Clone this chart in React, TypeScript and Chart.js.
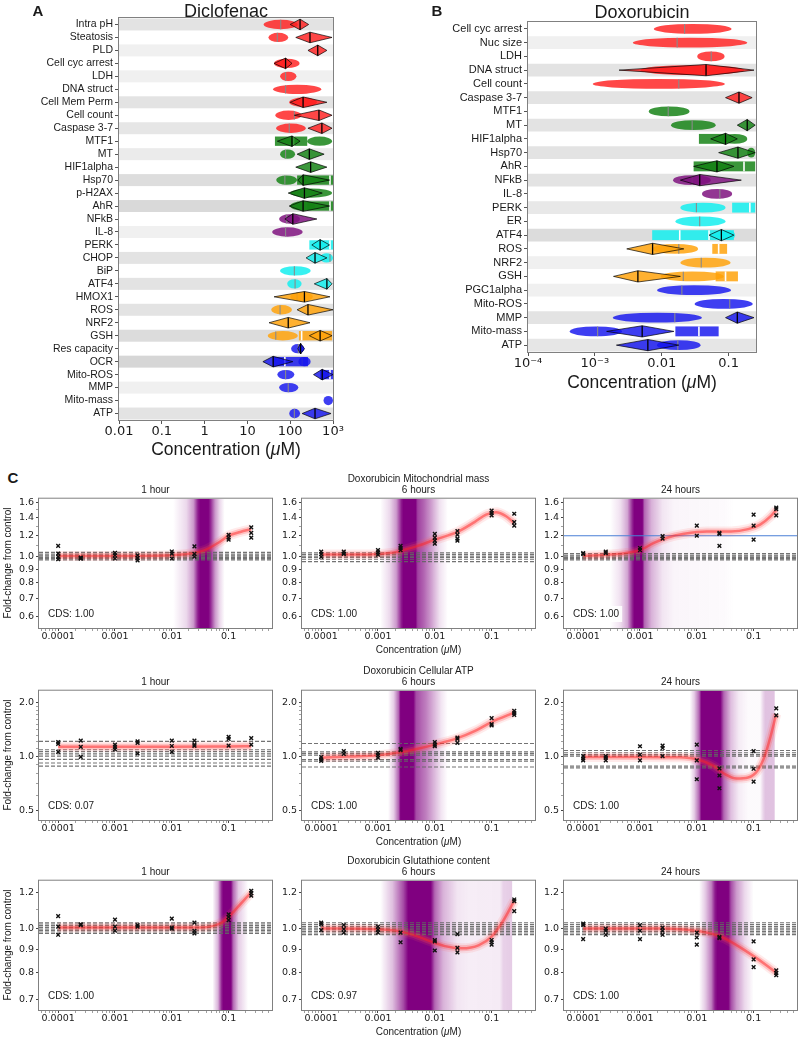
import React, { useEffect, useRef } from 'react';
import { Chart, registerables } from 'chart.js';

Chart.register(...registerables);

const SANS = '"Liberation Sans", Arial, Helvetica, sans-serif';
const DEJAVU = '"DejaVu Sans", Verdana, sans-serif';

/* ================= Panel A : Diclofenac ================= */
const DICLO_ROWS = ['Intra pH', 'Steatosis', 'PLD', 'Cell cyc arrest', 'LDH', 'DNA struct', 'Cell Mem Perm', 'Cell count', 'Caspase 3-7', 'MTF1', 'MT', 'HIF1alpha', 'Hsp70', 'p-H2AX', 'AhR', 'NFkB', 'IL-8', 'PERK', 'CHOP', 'BiP', 'ATF4', 'HMOX1', 'ROS', 'NRF2', 'GSH', 'Res capacity', 'OCR', 'Mito-ROS', 'MMP', 'Mito-mass', 'ATP'];
const DICLO_GROUPS = ['red', 'red', 'red', 'red', 'red', 'red', 'red', 'red', 'red', 'green', 'green', 'green', 'green', 'green', 'green', 'purple', 'purple', 'cyan', 'cyan', 'cyan', 'cyan', 'orange', 'orange', 'orange', 'orange', 'blue', 'blue', 'blue', 'blue', 'blue', 'blue'];
const DICLO_SHADE = [227, 255, 240, 255, 240, 255, 227, 255, 230, 255, 235, 255, 221, 255, 217, 255, 240, 255, 227, 255, 227, 255, 227, 255, 220, 255, 214, 255, 240, 255, 227];
// [row, low, median, high] in µM
const DICLO_ELLIPSES: any[] = [
  ['Intra pH', 24, 60, 150], ['Steatosis', 31, 50, 90], ['Cell cyc arrest', 42, 80, 165], ['LDH', 58, 78, 140],
  ['DNA struct', 40, 78, 530], ['Cell Mem Perm', 95, 200, 420], ['Cell count', 45, 125, 185], ['Caspase 3-7', 47, 95, 230],
  ['MTF1', 250, null, 950], ['MT', 58, 78, 130], ['Hsp70', 47, 75, 145], ['p-H2AX', 100, 215, 950], ['AhR', 100, 200, 380],
  ['NFkB', 55, 83, 170], ['IL-8', 38, 78, 195], ['CHOP', 500, 850, 1000], ['BiP', 58, 125, 300], ['ATF4', 85, 130, 185],
  ['HMOX1', 100, 145, 340], ['ROS', 36, 58, 110], ['GSH', 30, 46, 150], ['Res capacity', 105, 155, 215],
  ['OCR', 155, 190, 300], ['Mito-ROS', 50, 78, 125], ['MMP', 55, 90, 155], ['Mito-mass', 600, null, 1000], ['ATP', 95, 125, 170],
];
const DICLO_DIAMONDS: any[] = [
  ['Intra pH', 100, 170, 270], ['Steatosis', 135, 290, 950], ['PLD', 260, 440, 720], ['Cell cyc arrest', 42, 78, 110],
  ['Cell Mem Perm', 100, 200, 720], ['Cell count', 125, 470, 950], ['Caspase 3-7', 260, 550, 950], ['MTF1', 50, 110, 170],
  ['MT', 145, 280, 620], ['HIF1alpha', 135, 300, 720], ['Hsp70', 150, 200, 830], ['p-H2AX', 90, 215, 560], ['AhR', 95, 200, 830],
  ['NFkB', 75, 115, 420], ['PERK', 320, 500, 830], ['CHOP', 235, 380, 720], ['ATF4', 365, 720, 950], ['HMOX1', 42, 215, 850],
  ['ROS', 145, 260, 1000], ['NRF2', 32, 90, 290], ['GSH', 280, 500, 950], ['Res capacity', 150, 175, 215], ['OCR', 23, 40, 115],
  ['Mito-ROS', 350, 560, 1000], ['ATP', 190, 380, 900],
];
// [row, boundaries...]
const DICLO_RECTS: any[] = [
  ['MTF1', 44, 120, 250], ['Hsp70', 145, 850, 1000], ['AhR', 250, 850, 1000], ['PERK', 280, 850, 1000],
  ['GSH', 160, 185, 950], ['OCR', 40, 75, 260], ['Mito-ROS', 500, 850, 1000],
];
const DICLO_TICKS = [0.01, 0.1, 1, 10, 100, 1000];
const DICLO_TICK_LABELS = ['0.01', '0.1', '1', '10', '100', '10³'];

/* ================= Panel B : Doxorubicin ================= */
const DOXO_ROWS = ['Cell cyc arrest', 'Nuc size', 'LDH', 'DNA struct', 'Cell count', 'Caspase 3-7', 'MTF1', 'MT', 'HIF1alpha', 'Hsp70', 'AhR', 'NFkB', 'IL-8', 'PERK', 'ER', 'ATF4', 'ROS', 'NRF2', 'GSH', 'PGC1alpha', 'Mito-ROS', 'MMP', 'Mito-mass', 'ATP'];
const DOXO_GROUPS = ['red', 'red', 'red', 'red', 'red', 'red', 'green', 'green', 'green', 'green', 'green', 'purple', 'purple', 'cyan', 'cyan', 'cyan', 'orange', 'orange', 'orange', 'blue', 'blue', 'blue', 'blue', 'blue'];
const DOXO_SHADE = [255, 240, 255, 227, 255, 227, 255, 227, 255, 227, 255, 227, 255, 232, 255, 220, 255, 240, 255, 240, 255, 227, 255, 230];
const DOXO_ELLIPSES: any[] = [
  ['Cell cyc arrest', 0.0076, 0.022, 0.111], ['Nuc size', 0.0037, 0.017, 0.19], ['LDH', 0.034, 0.055, 0.087],
  ['DNA struct', 0.0048, 0.039, 0.17], ['Cell count', 0.00093, 0.018, 0.088], ['MTF1', 0.0064, 0.0125, 0.026],
  ['MT', 0.0138, 0.0285, 0.064], ['HIF1alpha', 0.08, null, 0.19], ['Hsp70', 0.19, null, 0.25], ['NFkB', 0.0148, 0.0285, 0.054],
  ['IL-8', 0.04, 0.074, 0.113], ['PERK', 0.019, 0.033, 0.09], ['ER', 0.016, 0.037, 0.09], ['ATF4', 0.075, null, 0.125],
  ['ROS', 0.0073, 0.018, 0.035], ['NRF2', 0.019, 0.039, 0.107], ['GSH', 0.0096, 0.021, 0.085], ['PGC1alpha', 0.0085, 0.02, 0.109],
  ['Mito-ROS', 0.031, 0.104, 0.23], ['MMP', 0.00185, 0.0157, 0.04], ['Mito-mass', 0.00042, 0.0011, 0.00255], ['ATP', 0.0085, 0.0174, 0.038],
];
const DOXO_DIAMONDS: any[] = [
  ['DNA struct', 0.0023, 0.046, 0.24], ['Caspase 3-7', 0.09, 0.143, 0.225], ['MT', 0.135, 0.19, 0.25],
  ['HIF1alpha', 0.054, 0.09, 0.135], ['Hsp70', 0.071, 0.138, 0.25], ['AhR', 0.03, 0.067, 0.12], ['NFkB', 0.019, 0.037, 0.155],
  ['ATF4', 0.051, 0.078, 0.12], ['ROS', 0.003, 0.0073, 0.0214], ['GSH', 0.0019, 0.0044, 0.019], ['MMP', 0.09, 0.135, 0.24],
  ['Mito-mass', 0.0015, 0.0051, 0.0152], ['ATP', 0.0021, 0.0062, 0.018],
];
const DOXO_RECTS: any[] = [
  ['HIF1alpha', 0.036, 0.09], ['AhR', 0.03, 0.17, 0.25], ['PERK', 0.113, 0.208, 0.25], ['ATF4', 0.0072, 0.0186, 0.051, 0.12],
  ['ROS', 0.057, 0.071, 0.095], ['GSH', 0.064, 0.09, 0.138], ['Mito-mass', 0.016, 0.036, 0.071],
];
const DOXO_TICKS = [0.0001, 0.001, 0.01, 0.1];
const DOXO_TICK_LABELS = ['10⁻⁴', '10⁻³', '0.01', '0.1'];

const GROUP_COLORS: Record<string, string> = {
  red: 'rgba(255,30,30,0.82)', green: 'rgba(20,130,20,0.84)', purple: 'rgba(125,15,125,0.84)',
  cyan: 'rgba(20,238,238,0.85)', orange: 'rgba(255,162,10,0.84)', blue: 'rgba(20,20,238,0.82)',
};

/* ================= Panel C : concentration-response ================= */
const CONC = [0.0001, 0.00025, 0.001, 0.0025, 0.01, 0.025, 0.1, 0.25];
const TIMES = ['1 hour', '6 hours', '24 hours'];

// Mitochondrial mass
const MITO_1H_REPS = [[1.10, 1.03, 1.0, 0.98], [0.995, 0.99, 0.985], [1.036, 1.014, 0.986], [1.014, 0.99, 0.97], [1.048, 1.028, 0.986], [1.095, 1.026, 1.002], [1.21, 1.18, 1.16], [1.29, 1.23, 1.18]];
const MITO_1H_FIT = [[0.0001, 1.008], [0.001, 1.008], [0.01, 1.015], [0.02, 1.027], [0.04, 1.065], [0.07, 1.14], [0.1, 1.2], [0.16, 1.24], [0.25, 1.27]];
const MITO_1H_CTRL = [0.975, 0.985, 0.995, 1.005, 1.015, 1.025, 1.04];
const MITO_1H_BAND = [[0.0105, 0], [0.018, 0.15], [0.024, 0.4], [0.029, 0.9], [0.032, 1], [0.044, 1], [0.048, 0.85], [0.058, 0.4], [0.07, 0.15], [0.085, 0]];

const MITO_6H_REPS = [[1.047, 1.025, 1.0], [1.047, 1.03, 1.025], [1.06, 1.04, 1.02], [1.10, 1.08, 1.06], [1.22, 1.18, 1.15, 1.12], [1.25, 1.21, 1.17, 1.15], [1.49, 1.46, 1.43], [1.45, 1.35, 1.31]];
const MITO_6H_FIT = [[0.0001, 1.02], [0.0005, 1.02], [0.001, 1.025], [0.002, 1.04], [0.003, 1.065], [0.005, 1.10], [0.01, 1.16], [0.025, 1.24], [0.05, 1.35], [0.08, 1.44], [0.12, 1.47], [0.18, 1.42], [0.25, 1.34]];
const MITO_6H_CTRL = [0.96, 0.98, 0.995, 1.005, 1.02, 1.035];
const MITO_6H_BAND = [[0.0011, 0], [0.0016, 0.15], [0.0021, 0.4], [0.0026, 0.9], [0.0028, 1], [0.0046, 1], [0.005, 0.75], [0.0065, 0.6], [0.009, 0.35], [0.012, 0.12], [0.017, 0]];

const MITO_24H_REPS = [[1.033, 1.025], [1.047, 1.033], [1.08, 1.06], [1.196, 1.17], [1.31, 1.2], [1.23, 1.22, 1.1], [1.44, 1.31, 1.16], [1.53, 1.51, 1.43]];
const MITO_24H_FIT = [[0.0001, 1.01], [0.0003, 1.02], [0.0007, 1.04], [0.001, 1.06], [0.0018, 1.13], [0.003, 1.18], [0.006, 1.22], [0.015, 1.245], [0.04, 1.245], [0.08, 1.27], [0.13, 1.32], [0.2, 1.42], [0.25, 1.5]];
const MITO_24H_CTRL = [0.975, 0.985, 0.995, 1.005, 1.015, 1.03];
const MITO_24H_BAND = [[0.0003, 0], [0.00045, 0.12], [0.0006, 0.35], [0.00075, 0.9], [0.0008, 1], [0.0011, 1], [0.0012, 0.6], [0.0016, 0.3], [0.0025, 0.1], [0.004, 0.04], [0.03, 0.02], [0.045, 0]];
const MITO_24H_REF = [1.2];

// Cellular ATP
const ATP_1H_REPS = [[1.2, 1.17, 1.056], [1.22, 1.126, 0.99], [1.16, 1.126, 1.09], [1.21, 1.185, 1.035], [1.22, 1.14, 1.056], [1.22, 1.16, 1.14], [1.28, 1.25, 1.146], [1.26, 1.16]];
const ATP_1H_FIT = [[0.0001, 1.13], [0.001, 1.13], [0.01, 1.13], [0.1, 1.133], [0.25, 1.135]];
const ATP_1H_CTRL = [1.21, 1.085, 1.06, 1.03, 1.0, 0.96, 0.915, 0.88];
const ATP_1H_BAND: number[][] = [];

const ATP_6H_REPS = [[0.987, 0.96, 0.94], [1.066, 1.03], [1.043, 1.013, 0.98], [1.098, 1.08], [1.2, 1.16, 1.136], [1.27, 1.25, 1.185], [1.63, 1.51, 1.485], [1.79, 1.74, 1.7]];
const ATP_6H_FIT = [[0.0001, 0.98], [0.0003, 0.995], [0.001, 1.01], [0.0025, 1.05], [0.005, 1.1], [0.01, 1.16], [0.025, 1.26], [0.05, 1.38], [0.1, 1.55], [0.25, 1.75]];
const ATP_6H_CTRL = [1.176, 1.056, 1.035, 1.013, 0.958, 0.938, 0.87];
const ATP_6H_BAND = [[0.0015, 0], [0.0019, 0.2], [0.0023, 0.6], [0.0025, 1], [0.0042, 1], [0.0047, 0.7], [0.007, 0.5], [0.0095, 0.3], [0.013, 0.1], [0.017, 0]];

const ATP_24H_REPS = [[1.0, 0.97, 0.947], [1.0, 0.98, 0.947], [1.136, 1.02, 0.947], [1.146, 1.11, 1.0], [1.16, 0.947, 0.743], [0.855, 0.78, 0.662], [1.066, 0.85, 0.72], [1.85, 1.69]];
const ATP_24H_FIT = [[0.0001, 0.99], [0.001, 0.99], [0.005, 0.985], [0.01, 0.96], [0.02, 0.88], [0.03, 0.8], [0.05, 0.75], [0.08, 0.76], [0.12, 0.84], [0.16, 1.02], [0.2, 1.3], [0.25, 1.72]];
const ATP_24H_CTRL = [1.075, 1.045, 1.02, 1.0, 0.88, 0.86];
const ATP_24H_BAND = [[0.0075, 0], [0.009, 0.2], [0.011, 0.6], [0.012, 1], [0.026, 1], [0.03, 0.6], [0.04, 0.25], [0.055, 0.08], [0.08, 0.02], [0.13, 0.02], [0.145, 0.15], [0.16, 0.24], [0.23, 0.24], [0.24, 0]];

// Glutathione content
const GSH_1H_REPS = [[1.065, 1.01, 0.969], [1.022, 1.017], [1.046, 1.01, 0.989], [1.017, 1.01], [1.051, 1.005, 1.0], [1.03, 0.989, 0.976], [1.074, 1.06, 1.043], [1.21, 1.196, 1.18]];
const GSH_1H_FIT = [[0.0001, 1.005], [0.001, 1.005], [0.01, 1.005], [0.04, 1.007], [0.07, 1.025], [0.1, 1.06], [0.15, 1.12], [0.25, 1.2]];
const GSH_1H_CTRL = [0.975, 0.983, 0.991, 0.998, 1.006, 1.015, 1.023, 1.03];
const GSH_1H_BAND = [[0.052, 0], [0.065, 0.3], [0.075, 0.85], [0.08, 1], [0.11, 1], [0.12, 0.6], [0.15, 0.2], [0.2, 0.05], [0.22, 0]];

const GSH_6H_REPS = [[1.03, 1.022, 0.992], [1.018, 0.997, 0.98], [1.01, 0.994, 0.98], [0.98, 0.933], [0.944, 0.937, 0.895], [0.972, 0.907, 0.887], [0.944, 0.933, 0.922], [1.158, 1.148, 1.092]];
const GSH_6H_FIT = [[0.0001, 1.0], [0.001, 0.997], [0.002, 0.99], [0.004, 0.97], [0.008, 0.94], [0.015, 0.915], [0.03, 0.905], [0.06, 0.92], [0.1, 0.96], [0.16, 1.04], [0.25, 1.15]];
const GSH_6H_CTRL = [0.97, 0.978, 0.986, 0.994, 1.002, 1.01, 1.02, 1.03];
const GSH_6H_BAND = [[0.0011, 0], [0.0018, 0.25], [0.0028, 0.7], [0.0034, 1], [0.0085, 1], [0.01, 0.6], [0.014, 0.3], [0.025, 0.1], [0.04, 0.07], [0.14, 0.08], [0.16, 0.18], [0.225, 0.2], [0.235, 0]];

const GSH_24H_REPS = [[1.025, 1.018, 0.948], [1.0, 0.989, 0.969], [1.017, 0.989, 0.948], [1.005, 0.989, 0.969], [0.98, 0.956, 0.922], [0.959, 0.953], [0.937, 0.856, 0.823], [0.81, 0.799, 0.79]];
const GSH_24H_FIT = [[0.0001, 1.0], [0.002, 1.0], [0.006, 0.995], [0.012, 0.985], [0.025, 0.963], [0.05, 0.92], [0.1, 0.87], [0.17, 0.83], [0.25, 0.8]];
const GSH_24H_CTRL = [0.97, 0.978, 0.986, 0.994, 1.002, 1.01, 1.02, 1.03];
const GSH_24H_BAND = [[0.011, 0], [0.014, 0.2], [0.018, 0.5], [0.021, 0.9], [0.023, 1], [0.036, 1], [0.04, 0.7], [0.05, 0.4], [0.07, 0.15], [0.1, 0]];

const CDS_MITO = ['1.00', '1.00', '1.00'];
const CDS_ATP = ['0.07', '1.00', '1.00'];
const CDS_GSH = ['1.00', '0.97', '1.00'];

const C_X_MAJOR = [0.0001, 0.001, 0.01, 0.1];
const C_X_LABELS = ['0.0001', '0.001', '0.01', '0.1'];
const MITO_Y_MAJOR = [0.6, 0.7, 0.8, 0.9, 1.0, 1.2, 1.4, 1.6];
const MITO_Y_MINOR = [1.1, 1.3, 1.5];
const ATP_Y_MAJOR = [0.5, 1.0, 2.0];
const ATP_Y_MINOR = [0.6, 0.7, 0.8, 0.9, 1.1, 1.2, 1.3, 1.4, 1.5, 1.6, 1.7, 1.8, 1.9];
const GSH_Y_MAJOR = [0.7, 0.8, 0.9, 1.0, 1.2];
const GSH_Y_MINOR = [1.1];

const C_XMIN = 4.6e-5;
const C_XMAX = 0.58;

/* ================= layout ================= */
const C_COL_LEFT = [39, 302, 564];
const C_ROW_TOP = [497, 689, 879];
const C_PW = 233;
const C_PH = 131;
const C_YW = 32;
const C_PT = 6;
const C_PR = 6;
const C_XH = 16;

const C_ROWS = [
  {
    title: 'Doxorubicin Mitochondrial mass', yMin: 0.542, yMax: 1.651, yMajor: MITO_Y_MAJOR, yMinor: MITO_Y_MINOR,
    panels: [
      { reps: MITO_1H_REPS, fit: MITO_1H_FIT, ctrl: MITO_1H_CTRL, band: MITO_1H_BAND, cds: CDS_MITO[0], ref: [] as number[] },
      { reps: MITO_6H_REPS, fit: MITO_6H_FIT, ctrl: MITO_6H_CTRL, band: MITO_6H_BAND, cds: CDS_MITO[1], ref: [] as number[] },
      { reps: MITO_24H_REPS, fit: MITO_24H_FIT, ctrl: MITO_24H_CTRL, band: MITO_24H_BAND, cds: CDS_MITO[2], ref: MITO_24H_REF },
    ],
  },
  {
    title: 'Doxorubicin Cellular ATP', yMin: 0.44, yMax: 2.32, yMajor: ATP_Y_MAJOR, yMinor: ATP_Y_MINOR,
    panels: [
      { reps: ATP_1H_REPS, fit: ATP_1H_FIT, ctrl: ATP_1H_CTRL, band: ATP_1H_BAND, cds: CDS_ATP[0], ref: [] as number[] },
      { reps: ATP_6H_REPS, fit: ATP_6H_FIT, ctrl: ATP_6H_CTRL, band: ATP_6H_BAND, cds: CDS_ATP[1], ref: [] as number[] },
      { reps: ATP_24H_REPS, fit: ATP_24H_FIT, ctrl: ATP_24H_CTRL, band: ATP_24H_BAND, cds: CDS_ATP[2], ref: [] as number[] },
    ],
  },
  {
    title: 'Doxorubicin Glutathione content', yMin: 0.663, yMax: 1.273, yMajor: GSH_Y_MAJOR, yMinor: GSH_Y_MINOR,
    panels: [
      { reps: GSH_1H_REPS, fit: GSH_1H_FIT, ctrl: GSH_1H_CTRL, band: GSH_1H_BAND, cds: CDS_GSH[0], ref: [] as number[] },
      { reps: GSH_6H_REPS, fit: GSH_6H_FIT, ctrl: GSH_6H_CTRL, band: GSH_6H_BAND, cds: CDS_GSH[1], ref: [] as number[] },
      { reps: GSH_24H_REPS, fit: GSH_24H_FIT, ctrl: GSH_24H_CTRL, band: GSH_24H_BAND, cds: CDS_GSH[2], ref: [] as number[] },
    ],
  },
];

/* ================= plugins ================= */
function boxPlugin(color = '#808080') {
  return {
    id: 'box',
    afterDraw(chart: any) {
      const { ctx, chartArea: a } = chart;
      ctx.save();
      ctx.strokeStyle = color;
      ctx.lineWidth = 1;
      ctx.strokeRect(a.left - 0.5, a.top - 0.5, a.right - a.left + 1, a.bottom - a.top + 1);
      ctx.restore();
    },
  };
}

function rangeMarksPlugin(rows: string[], groups: string[], shade: number[], ellipses: any[], rects: any[], diamonds: any[]) {
  return {
    id: 'rangeMarks',
    beforeDatasetsDraw(chart: any) {
      const { ctx, chartArea: a } = chart;
      const x = chart.scales.x;
      const y = chart.scales.y;
      const rowH = (a.bottom - a.top) / rows.length;
      const px = (v: number) => x.getPixelForValue(v);
      const cyOf = (name: string) => y.getPixelForValue(rows.indexOf(name));
      const colorOf = (name: string) => GROUP_COLORS[groups[rows.indexOf(name)]];
      ctx.save();
      ctx.beginPath();
      ctx.rect(a.left, a.top, a.right - a.left, a.bottom - a.top);
      ctx.clip();
      shade.forEach((g, i) => {
        if (g >= 255) return;
        const cy = y.getPixelForValue(i);
        ctx.fillStyle = `rgb(${g},${g},${g})`;
        ctx.fillRect(a.left, cy - rowH / 2 + 0.5, a.right - a.left, rowH - 1);
      });
      const eh = rowH * 0.36;
      ellipses.forEach(([name, lo, mid, hi]) => {
        const cy = cyOf(name);
        const x0 = px(lo), x1 = px(hi);
        const cx = (x0 + x1) / 2, rx = (x1 - x0) / 2;
        ctx.beginPath();
        ctx.ellipse(cx, cy, rx, eh, 0, 0, Math.PI * 2);
        ctx.fillStyle = colorOf(name);
        ctx.fill();
        if (mid != null) {
          const xm = px(mid);
          const t = (xm - cx) / rx;
          const h = eh * Math.sqrt(Math.max(0, 1 - t * t));
          ctx.beginPath();
          ctx.moveTo(xm, cy - h);
          ctx.lineTo(xm, cy + h);
          ctx.strokeStyle = '#8a8a8a';
          ctx.lineWidth = 1.1;
          ctx.stroke();
        }
      });
      rects.forEach((r) => {
        const name = r[0];
        const bounds = r.slice(1);
        const cy = cyOf(name);
        const x0 = px(bounds[0]), x1 = px(bounds[bounds.length - 1]);
        ctx.fillStyle = colorOf(name);
        ctx.fillRect(x0, cy - eh, x1 - x0, eh * 2);
        ctx.strokeStyle = '#ffffff';
        ctx.lineWidth = 1.6;
        for (let k = 1; k < bounds.length - 1; k++) {
          const xb = px(bounds[k]);
          ctx.beginPath();
          ctx.moveTo(xb, cy - eh);
          ctx.lineTo(xb, cy + eh);
          ctx.stroke();
        }
      });
      const dh = rowH * 0.41;
      diamonds.forEach(([name, lo, mid, hi]) => {
        const cy = cyOf(name);
        const x0 = px(lo), xm = px(mid), x1 = px(hi);
        ctx.beginPath();
        ctx.moveTo(x0, cy);
        ctx.lineTo(xm, cy - dh);
        ctx.lineTo(x1, cy);
        ctx.lineTo(xm, cy + dh);
        ctx.closePath();
        ctx.fillStyle = colorOf(name);
        ctx.fill();
        ctx.strokeStyle = 'rgba(0,0,0,0.85)';
        ctx.lineWidth = 0.8;
        ctx.stroke();
        ctx.beginPath();
        ctx.moveTo(xm, cy - dh);
        ctx.lineTo(xm, cy + dh);
        ctx.strokeStyle = '#000';
        ctx.lineWidth = 1.3;
        ctx.stroke();
      });
      ctx.restore();
    },
  };
}

function bandPlugin(stops: number[][]) {
  return {
    id: 'band',
    beforeDatasetsDraw(chart: any) {
      if (!stops || stops.length < 2) return;
      const { ctx, chartArea: a } = chart;
      const x = chart.scales.x;
      const x0 = x.getPixelForValue(stops[0][0]);
      const x1 = x.getPixelForValue(stops[stops.length - 1][0]);
      const g = ctx.createLinearGradient(x0, 0, x1, 0);
      stops.forEach(([c, al]) => {
        const off = Math.min(1, Math.max(0, (x.getPixelForValue(c) - x0) / (x1 - x0)));
        g.addColorStop(off, `rgba(128,0,128,${al})`);
      });
      ctx.save();
      ctx.beginPath();
      ctx.rect(a.left, a.top, a.right - a.left, a.bottom - a.top);
      ctx.clip();
      ctx.fillStyle = g;
      ctx.fillRect(x0, a.top, x1 - x0, a.bottom - a.top);
      ctx.restore();
    },
  };
}

function cdsPlugin(cds: string) {
  return {
    id: 'cds',
    afterDatasetsDraw(chart: any) {
      const { ctx, chartArea: a } = chart;
      const text = 'CDS: ' + cds;
      ctx.save();
      ctx.font = `10px ${SANS}`;
      const w = ctx.measureText(text).width;
      const tx = a.left + 9;
      const ty = a.bottom - 14;
      ctx.fillStyle = 'rgba(255,255,255,0.9)';
      ctx.fillRect(tx - 3, ty - 8, w + 6, 16);
      ctx.fillStyle = '#1a1a1a';
      ctx.textBaseline = 'middle';
      ctx.fillText(text, tx, ty);
      ctx.restore();
    },
  };
}

/* ================= configs ================= */
function rangeConfig(opts: any) {
  const { rows, groups, shade, ellipses, rects, diamonds, ticks, tickLabels, xMin, xMax, yw, xh, padTop, rowFont } = opts;
  return {
    type: 'bar',
    data: { labels: rows, datasets: [{ data: [] as number[] }] },
    options: {
      animation: false,
      responsive: false,
      events: [],
      indexAxis: 'y',
      layout: { padding: { top: padTop, right: 12, left: 0, bottom: 0 } },
      plugins: { legend: { display: false }, tooltip: { enabled: false } },
      scales: {
        x: {
          type: 'logarithmic',
          position: 'bottom',
          min: xMin,
          max: xMax,
          afterBuildTicks: (s: any) => { s.ticks = ticks.map((v: number) => ({ value: v })); },
          afterFit: (s: any) => { s.height = xh; },
          ticks: {
            autoSkip: false, maxRotation: 0, minRotation: 0, padding: 0, color: '#1a1a1a',
            font: { family: DEJAVU, size: 13 },
            callback: (_v: any, i: number) => tickLabels[i],
          },
          grid: { drawOnChartArea: false, tickLength: 4, tickColor: '#555' },
          border: { display: false },
        },
        y: {
          type: 'category',
          afterFit: (s: any) => { s.width = yw; },
          ticks: { autoSkip: false, padding: 2, color: '#1a1a1a', font: { family: SANS, size: rowFont } },
          grid: { drawOnChartArea: false, offset: false, tickLength: 4, tickColor: '#555' },
          border: { display: false },
        },
      },
    },
    plugins: [rangeMarksPlugin(rows, groups, shade, ellipses, rects, diamonds), boxPlugin()],
  };
}

function buildTicks(major: number[], minor: number[]) {
  return [...major, ...minor].sort((p, q) => p - q);
}

function decadeMinors(min: number, max: number) {
  const out: number[] = [];
  [1e-5, 1e-4, 1e-3, 1e-2, 1e-1].forEach((d) => {
    [2, 3, 4, 5, 6, 7, 8, 9].forEach((m) => {
      const v = m * d;
      if (v > min && v < max) out.push(v);
    });
  });
  return out;
}

function cConfig(row: any, panel: any) {
  const xTicks = buildTicks(C_X_MAJOR, decadeMinors(C_XMIN, C_XMAX));
  const xLabels = xTicks.map((v) => { const k = C_X_MAJOR.indexOf(v); return k >= 0 ? C_X_LABELS[k] : ''; });
  const yTicks = buildTicks(row.yMajor, row.yMinor);
  const yLabels = yTicks.map((v) => (row.yMajor.indexOf(v) >= 0 ? v.toFixed(1) : ''));
  const datasets: any[] = [];
  datasets.push({
    data: panel.reps.flatMap((vals: number[], i: number) => vals.map((v) => ({ x: CONC[i], y: v }))),
    showLine: false, pointStyle: 'crossRot', pointRadius: 2.6, pointBorderWidth: 1.4,
    pointBorderColor: '#111', pointBackgroundColor: '#111', borderColor: '#111',
  });
  const fitData = panel.fit.map(([x, y]: number[]) => ({ x, y }));
  datasets.push({ data: fitData, showLine: true, pointRadius: 0, borderColor: 'rgba(255,35,35,0.5)', borderWidth: 2.5, cubicInterpolationMode: 'monotone' });
  datasets.push({ data: fitData, showLine: true, pointRadius: 0, borderColor: 'rgba(255,70,70,0.25)', borderWidth: 6, cubicInterpolationMode: 'monotone' });
  datasets.push({ data: fitData, showLine: true, pointRadius: 0, borderColor: 'rgba(255,90,90,0.12)', borderWidth: 10, cubicInterpolationMode: 'monotone' });
  panel.ref.forEach((v: number) => {
    datasets.push({ data: [{ x: C_XMIN, y: v }, { x: C_XMAX, y: v }], showLine: true, pointRadius: 0, borderColor: '#4a7fd6', borderWidth: 1.1 });
  });
  panel.ctrl.forEach((v: number) => {
    datasets.push({ data: [{ x: C_XMIN, y: v }, { x: C_XMAX, y: v }], showLine: true, pointRadius: 0, borderColor: 'rgba(100,100,100,0.9)', borderWidth: 1.1, borderDash: [4, 2] });
  });
  const tickFont = { family: DEJAVU, size: 9.5 };
  return {
    type: 'scatter',
    data: { datasets },
    options: {
      animation: false,
      responsive: false,
      events: [],
      layout: { padding: { top: C_PT, right: C_PR, left: 0, bottom: 0 } },
      plugins: { legend: { display: false }, tooltip: { enabled: false } },
      scales: {
        x: {
          type: 'logarithmic', min: C_XMIN, max: C_XMAX,
          afterBuildTicks: (s: any) => { s.ticks = xTicks.map((v) => ({ value: v })); },
          afterFit: (s: any) => { s.height = C_XH; },
          ticks: { autoSkip: false, maxRotation: 0, minRotation: 0, padding: 0, color: '#1a1a1a', font: tickFont, callback: (_v: any, i: number) => xLabels[i] },
          grid: {
            drawOnChartArea: false, tickLength: 3,
            tickColor: (c: any) => (c.tick && C_X_MAJOR.indexOf(c.tick.value) >= 0 ? '#444' : '#a0a0a0'),
          },
          border: { display: false },
        },
        y: {
          type: 'logarithmic', min: row.yMin, max: row.yMax,
          afterBuildTicks: (s: any) => { s.ticks = yTicks.map((v: number) => ({ value: v })); },
          afterFit: (s: any) => { s.width = C_YW; },
          ticks: { autoSkip: false, padding: 2, color: '#1a1a1a', font: tickFont, callback: (_v: any, i: number) => yLabels[i] },
          grid: {
            drawOnChartArea: false, tickLength: 3,
            tickColor: (c: any) => (c.tick && row.yMajor.indexOf(c.tick.value) >= 0 ? '#444' : '#a0a0a0'),
          },
          border: { display: false },
        },
      },
    },
    plugins: [bandPlugin(panel.band), cdsPlugin(panel.cds), boxPlugin()],
  };
}

/* ================= components ================= */
function ChartCanvas({ left, top, width, height, build }: any) {
  const ref = useRef<HTMLCanvasElement>(null);
  useEffect(() => {
    const chart = new Chart(ref.current as HTMLCanvasElement, build());
    return () => chart.destroy();
  }, []);
  return <canvas ref={ref} width={width} height={height} style={{ position: 'absolute', left, top, width, height }} />;
}

function Txt({ x, y, size = 10, bold = false, family = SANS, rotate = false, children }: any) {
  return (
    <div
      style={{
        position: 'absolute', left: x, top: y,
        transform: `translate(-50%,-50%)${rotate ? ' rotate(-90deg)' : ''}`,
        font: `${bold ? 'bold ' : ''}${size}px ${family}`, lineHeight: 1, whiteSpace: 'nowrap', color: '#1a1a1a',
      }}
    >
      {children}
    </div>
  );
}

export default function App() {
  return (
    <div style={{ position: 'absolute', left: 0, top: 0, width: 800, height: 1040, background: '#fff', overflow: 'hidden' }}>
      <ChartCanvas
        left={0} top={0} width={345} height={445}
        build={() => rangeConfig({
          rows: DICLO_ROWS, groups: DICLO_GROUPS, shade: DICLO_SHADE, ellipses: DICLO_ELLIPSES, rects: DICLO_RECTS,
          diamonds: DICLO_DIAMONDS, ticks: DICLO_TICKS, tickLabels: DICLO_TICK_LABELS, xMin: 0.01, xMax: 1000,
          yw: 119, xh: 25, padTop: 18, rowFont: 10.5,
        })}
      />
      <ChartCanvas
        left={400} top={0} width={368} height={377}
        build={() => rangeConfig({
          rows: DOXO_ROWS, groups: DOXO_GROUPS, shade: DOXO_SHADE, ellipses: DOXO_ELLIPSES, rects: DOXO_RECTS,
          diamonds: DOXO_DIAMONDS, ticks: DOXO_TICKS, tickLabels: DOXO_TICK_LABELS, xMin: 0.0001, xMax: 0.257,
          yw: 128, xh: 25, padTop: 22, rowFont: 11,
        })}
      />
      {C_ROWS.map((row, ri) =>
        row.panels.map((panel, ci) => (
          <ChartCanvas
            key={`c${ri}${ci}`}
            left={C_COL_LEFT[ci] - C_YW} top={C_ROW_TOP[ri] - C_PT}
            width={C_YW + C_PW + C_PR} height={C_PT + C_PH + C_XH}
            build={() => cConfig(row, panel)}
          />
        ))
      )}

      <Txt x={38} y={10} size={15} bold>A</Txt>
      <Txt x={226} y={11} size={18}>Diclofenac</Txt>
      <Txt x={226} y={450} size={17.5}>Concentration (<i>μ</i>M)</Txt>
      <Txt x={437} y={10} size={15} bold>B</Txt>
      <Txt x={642} y={12} size={18}>Doxorubicin</Txt>
      <Txt x={642} y={383} size={17.5}>Concentration (<i>μ</i>M)</Txt>
      <Txt x={13} y={477} size={15} bold>C</Txt>

      {C_ROWS.map((row, ri) => (
        <React.Fragment key={`t${ri}`}>
          <Txt x={C_COL_LEFT[1] + C_PW / 2} y={C_ROW_TOP[ri] - 18.5} size={10}>{row.title}</Txt>
          {TIMES.map((t, ci) => (
            <Txt key={t} x={C_COL_LEFT[ci] + C_PW / 2} y={C_ROW_TOP[ri] - 7.5} size={10}>{t}</Txt>
          ))}
          <Txt x={C_COL_LEFT[1] + C_PW / 2} y={C_ROW_TOP[ri] + C_PH + 21.5} size={10}>Concentration (<i>μ</i>M)</Txt>
          <Txt x={8} y={C_ROW_TOP[ri] + C_PH / 2} size={10} rotate>Fold-change from control</Txt>
        </React.Fragment>
      ))}
    </div>
  );
}
